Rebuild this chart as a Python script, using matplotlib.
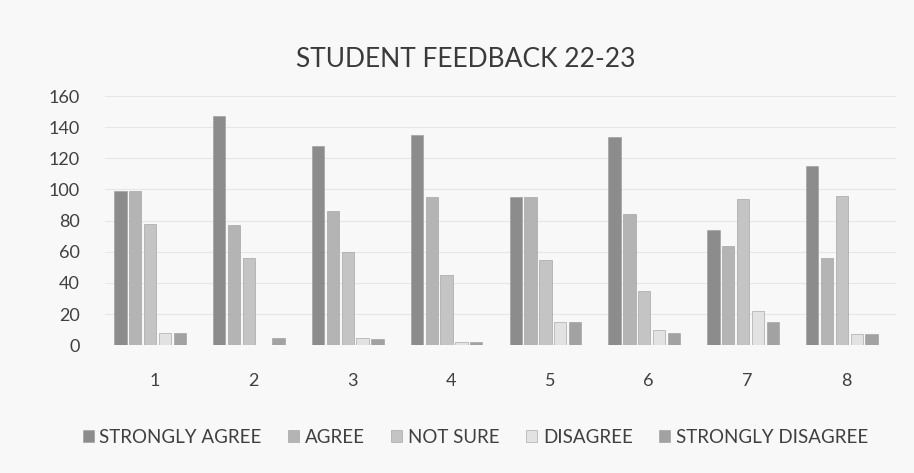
import matplotlib.pyplot as plt
import numpy as np

plt.rcParams['font.family'] = ['Lato', 'DejaVu Sans']

categories = ['1', '2', '3', '4', '5', '6', '7', '8']
series_names = ['STRONGLY AGREE', 'AGREE', 'NOT SURE', 'DISAGREE', 'STRONGLY DISAGREE']
strongly_agree = [99, 147, 128, 135, 95, 134, 74, 115]
agree = [99, 77, 86, 95, 95, 84, 64, 56]
not_sure = [78, 56, 60, 45, 55, 35, 94, 96]
disagree = [8, 0, 5, 2, 15, 10, 22, 7]
strongly_disagree = [8, 5, 4, 2, 15, 8, 15, 7]

values = [strongly_agree, agree, not_sure, disagree, strongly_disagree]
colors = ['#8c8c8c', '#b4b4b4', '#c4c4c4', '#e2e2e2', '#a2a2a2']

fig = plt.figure(figsize=(9.14, 4.73), dpi=100, facecolor='#f8f8f8')
ax = fig.add_axes([0.115, 0.27, 0.865, 0.527])
ax.set_facecolor('#f8f8f8')

x = np.arange(len(categories))
pitch = 0.15
width = 0.125
for i, (vals, col) in enumerate(zip(values, colors)):
    ax.bar(x + (i - 2.3) * pitch, vals, width, color=col, label=series_names[i],
           edgecolor='#9a9a9a', linewidth=0.4, zorder=3)

ax.set_xlim(-0.5, 7.5)
ax.set_ylim(0, 160)
ax.set_yticks(range(0, 161, 20))
ax.set_xticks(x)
ax.set_xticklabels(categories)
ax.yaxis.grid(True, color='#e6e6e6', linewidth=0.8, zorder=0)
for s in ax.spines.values():
    s.set_visible(False)
ax.tick_params(length=0, labelsize=13, colors='#404040')
ax.tick_params(axis='x', pad=20)
ax.tick_params(axis='y', pad=18)

fig.text(0.51, 0.875, 'STUDENT FEEDBACK 22-23', ha='center', va='center',
         fontsize=19, color='#3a3a3a')

fig.legend(loc='center', bbox_to_anchor=(0.52, 0.075), ncol=5, frameon=False,
           fontsize=13.5, handlelength=0.6, handleheight=0.6, columnspacing=1.4,
           handletextpad=0.3, labelcolor='#404040')

fig.savefig('out.png', dpi=100, facecolor=fig.get_facecolor())
